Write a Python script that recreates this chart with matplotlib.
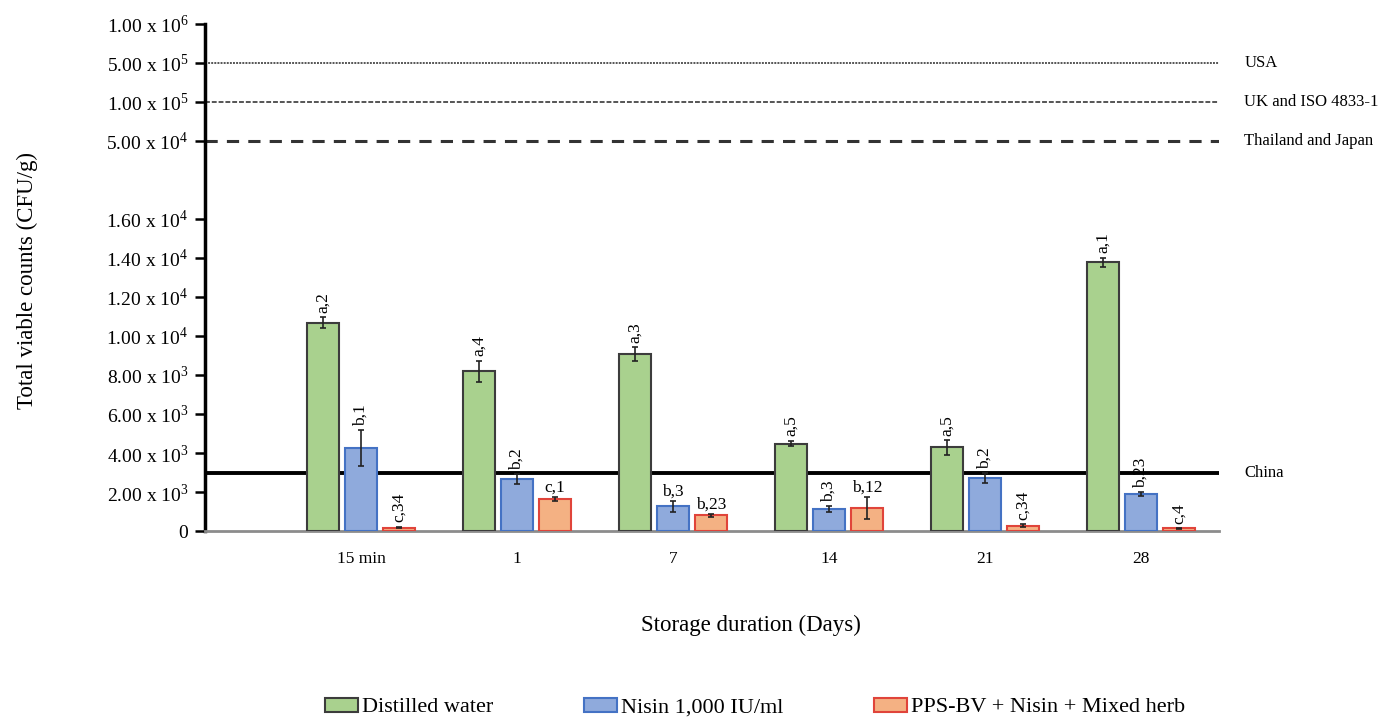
import matplotlib
matplotlib.use('Agg')
from matplotlib import pyplot as plt
from matplotlib import transforms
import numpy as np

plt.rcParams['font.family'] = ['Liberation Serif', 'DejaVu Serif']

days = ['15 min', '1', '7', '14', '21', '28']
series = ['Distilled water', 'Nisin 1,000 IU/ml', 'PPS-BV + Nisin + Mixed herb']

water      = [10700, 8200, 9100, 4500, 4300, 13800]
water_err  = [300, 550, 350, 150, 380, 230]
nisin      = [4250, 2680, 1280, 1140, 2720, 1900]
nisin_err  = [920, 250, 280, 150, 260, 100]
mix        = [200, 1650, 820, 1190, 300, 150]
mix_err    = [50, 100, 60, 560, 80, 40]

water_lbl  = ['a,2', 'a,4', 'a,3', 'a,5', 'a,5', 'a,1']
nisin_lbl  = ['b,1', 'b,2', 'b,3', 'b,3', 'b,2', 'b,23']
mix_lbl    = ['c,34', 'c,1', 'b,23', 'b,12', 'c,34', 'c,4']
# labels printed flat instead of rotated: (series index, day index)
flat_lbl   = [(2, 1), (1, 2), (2, 2), (2, 3)]

# linear part of the axis up to 1.6e4, then the standards on an evenly spaced upper part
lin_ticks   = [0, 2000, 4000, 6000, 8000, 10000, 12000, 14000, 16000]
lin_labels  = ['0', '2.00 x 10$^{\\mathregular{3}}$', '4.00 x 10$^{\\mathregular{3}}$',
               '6.00 x 10$^{\\mathregular{3}}$', '8.00 x 10$^{\\mathregular{3}}$',
               '1.00 x 10$^{\\mathregular{4}}$', '1.20 x 10$^{\\mathregular{4}}$',
               '1.40 x 10$^{\\mathregular{4}}$', '1.60 x 10$^{\\mathregular{4}}$']
upper_pos    = [20000, 22000, 24000, 26000]
upper_labels = ['5.00 x 10$^{\\mathregular{4}}$', '1.00 x 10$^{\\mathregular{5}}$',
                '5.00 x 10$^{\\mathregular{5}}$', '1.00 x 10$^{\\mathregular{6}}$']

standards   = ['China', 'Thailand and Japan', 'UK and ISO 4833-1', 'USA']
standard_y  = [3000, 20000, 22000, 24000]

tick_size   = 14
xtick_size  = 12.5
bar_lbl_size = 12.5
std_size    = 12
label_size  = 16.5
legend_size = 16

width = 0.205
step  = 0.245
x = np.arange(1, len(days) + 1)

colors = ['#a9d18e', '#8faadc', '#f4b183']
edges  = ['#3c3c3c', '#4472c4', '#e0443a']

f = plt.figure(figsize=(13.85, 7.23), dpi=100)
ax = f.add_axes([0.148, 0.265, 0.732, 0.702])

vals = [water, nisin, mix]
errs = [water_err, nisin_err, mix_err]
lbls = [water_lbl, nisin_lbl, mix_lbl]
handles = []
for k in range(3):
    xs = x + (k - 1) * step
    h = ax.bar(xs, vals[k], width, color=colors[k], edgecolor=edges[k], linewidth=1.5,
               label=series[k], zorder=3)
    ax.errorbar(xs, vals[k], yerr=errs[k], fmt='none', ecolor='#222222', elinewidth=1.2,
                capsize=2.5, capthick=1.2, zorder=4)
    handles.append(h)
    for i in range(len(days)):
        top = vals[k][i] + errs[k][i]
        if (k, i) in flat_lbl:
            ax.annotate(lbls[k][i], (xs[i], top), xytext=(0, 1), textcoords='offset points',
                        ha='center', va='bottom', fontsize=bar_lbl_size, zorder=5)
        else:
            ax.annotate(lbls[k][i], (xs[i], top), xytext=(0, 3), textcoords='offset points',
                        ha='center', va='bottom', rotation=90, fontsize=bar_lbl_size, zorder=5)

# microbial standards
styles = [dict(linestyle='-', linewidth=2.8, color='black'),
          dict(linestyle=(0, (4, 3)), linewidth=2.2, color='#333333'),
          dict(linestyle=(0, (2.5, 1)), linewidth=1.4, color='#555555'),
          dict(linestyle=(0, (1, 0.6)), linewidth=1.4, color='#555555')]
trans = transforms.blended_transform_factory(ax.transAxes, ax.transData)
for name, y, st in zip(standards, standard_y, styles):
    ax.axhline(y, zorder=2, **st)
    ax.text(1.025, y, name, transform=trans, ha='left', va='center', fontsize=std_size,
            clip_on=False)

ax.set_xlim(0, 6.5)
ax.set_ylim(0, 26000)
ax.set_yticks(lin_ticks + upper_pos)
ax.set_yticklabels(lin_labels + upper_labels)
ax.set_xticks(x)
ax.set_xticklabels(days)
ax.tick_params(axis='y', direction='out', length=7, width=1.8, labelsize=tick_size, pad=5)
ax.tick_params(axis='x', length=0, labelsize=xtick_size, pad=14)

ax.spines['top'].set_visible(False)
ax.spines['right'].set_visible(False)
ax.spines['left'].set_linewidth(2.5)
ax.spines['bottom'].set_linewidth(2)
ax.spines['bottom'].set_color('#8c8c8c')

ax.set_ylabel('Total viable counts (CFU/g)', fontsize=label_size)
ax.yaxis.set_label_coords(-0.165, 0.495)
ax.set_xlabel('Storage duration (Days)', fontsize=label_size)
ax.xaxis.set_label_coords(0.539, -0.165)

f.legend(handles, series, loc='lower center', bbox_to_anchor=(0.545, -0.02), ncol=3,
         fontsize=legend_size, frameon=False, handlelength=1.5, handleheight=0.6,
         handletextpad=0.15, columnspacing=4.1)

f.savefig('out.png', dpi=100)
